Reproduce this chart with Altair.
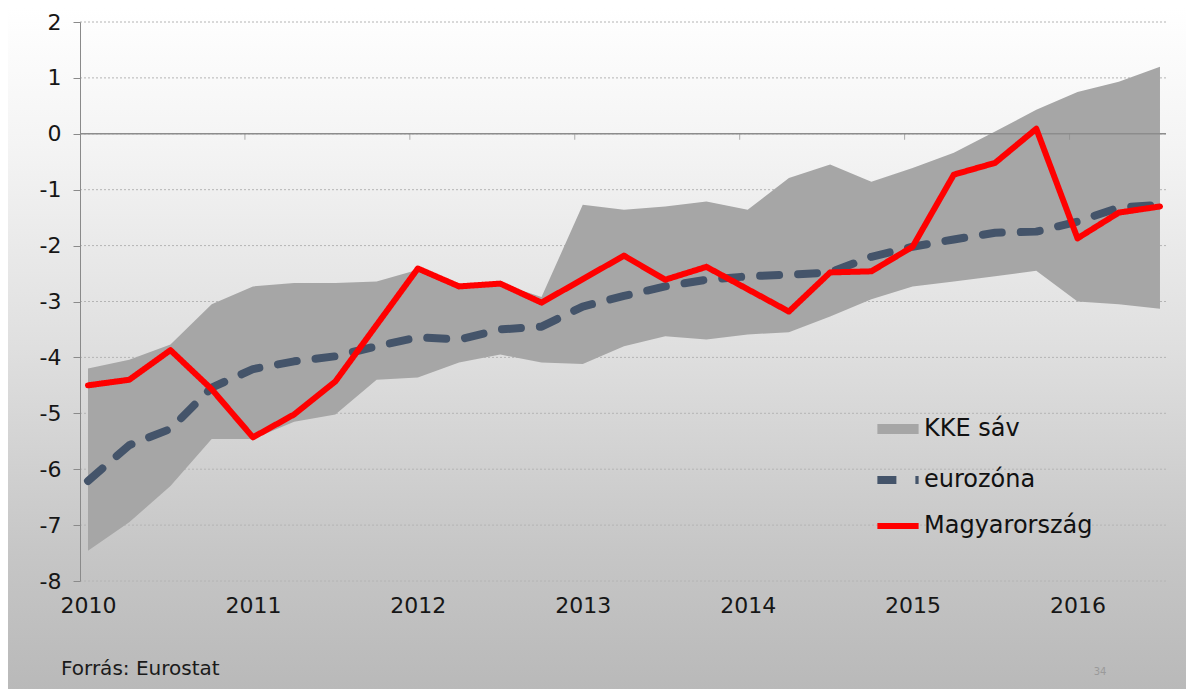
import altair as alt
import pandas as pd

# ---- data (quarters 2010Q1 .. 2016Q3) ----
quarters = list(range(27))
year_labels = [2010, 2011, 2012, 2013, 2014, 2015, 2016]
y_ticks = [-8, -7, -6, -5, -4, -3, -2, -1, 0, 1, 2]

hun = [-4.50, -4.40, -3.87, -4.57, -5.43, -5.02, -4.43, -3.42, -2.41,
       -2.73, -2.68, -3.02, -2.60, -2.18, -2.61, -2.38, -2.78, -3.18,
       -2.48, -2.46, -2.02, -0.73, -0.52, 0.09, -1.87, -1.41, -1.30]
euro = [-6.21, -5.57, -5.28, -4.54, -4.21, -4.07, -3.98, -3.80, -3.64,
        -3.68, -3.50, -3.45, -3.09, -2.90, -2.73, -2.61, -2.55, -2.52,
        -2.48, -2.20, -2.02, -1.89, -1.77, -1.75, -1.57, -1.32, -1.27]
kke_lo = [-7.46, -6.95, -6.30, -5.46, -5.46, -5.15, -5.02, -4.40, -4.36,
          -4.09, -3.95, -4.09, -4.12, -3.80, -3.62, -3.68, -3.59, -3.55,
          -3.27, -2.96, -2.73, -2.64, -2.55, -2.45, -3.00, -3.05, -3.13]
kke_hi = [-4.20, -4.04, -3.77, -3.05, -2.73, -2.67, -2.67, -2.64, -2.43,
          -2.73, -2.68, -2.92, -1.27, -1.36, -1.30, -1.21, -1.36, -0.79,
          -0.55, -0.86, -0.61, -0.34, 0.04, 0.43, 0.75, 0.93, 1.20]

series_names = ["KKE sáv", "eurozóna", "Magyarország"]
series_colors = ["#a6a6a6", "#44546a", "#ff0000"]

W, H = 1086, 559
PAD = {"left": 72, "top": 14, "right": 20, "bottom": 108}
FONT = "DejaVu Sans"

band_df = pd.DataFrame({"q": quarters, "lo": kke_lo, "hi": kke_hi})
line_df = pd.DataFrame({
    "q": quarters + quarters,
    "v": euro + hun,
    "series": ["eurozóna"] * len(euro) + ["Magyarország"] * len(hun),
})
grid_df = pd.DataFrame({"g": y_ticks})
yt_df = pd.DataFrame({"t": [4 * k for k in range(1, len(year_labels))]})

xscale = alt.Scale(domain=[-0.194, 26.146], nice=False, zero=False)
yscale = alt.Scale(domain=[-8, 2], nice=False, zero=False)

gradient = {
    "gradient": "linear", "x1": 0, "y1": 0, "x2": 0, "y2": 1,
    "stops": [
        {"offset": 0.0, "color": "#ffffff"},
        {"offset": 0.2, "color": "#f4f4f4"},
        {"offset": 0.5, "color": "#dfdfdf"},
        {"offset": 0.8, "color": "#c6c6c6"},
        {"offset": 1.0, "color": "#b9b9b9"},
    ],
}

one = alt.Data(values=[{}])

bg = alt.Chart(one).mark_rect(fill=gradient).encode(
    x=alt.value(-PAD["left"]), x2=alt.value(W + PAD["right"]),
    y=alt.value(-PAD["top"]), y2=alt.value(H + PAD["bottom"]),
)

grid = alt.Chart(grid_df).mark_rule(
    color="#b4b4b4", strokeDash=[2, 2], strokeWidth=1
).encode(y=alt.Y("g:Q", scale=yscale))

band = alt.Chart(band_df).mark_area(color="#a6a6a6", opacity=1).encode(
    x=alt.X("q:Q", scale=xscale,
            axis=alt.Axis(values=[4 * k for k in range(len(year_labels))],
                          labelExpr="'' + (2010 + datum.value / 4)",
                          domain=False, ticks=False, grid=False,
                          labelFont=FONT, labelFontSize=22, labelColor="#161616",
                          labelPadding=14, title=None, zindex=1)),
    y=alt.Y("lo:Q", scale=yscale,
            axis=alt.Axis(values=y_ticks, grid=False, domainColor="#8a8a8a",
                          labelExpr="'' + datum.value",
                          tickColor="#8a8a8a", tickSize=7, labelFont=FONT,
                          labelFontSize=22, labelColor="#161616",
                          labelPadding=12, title=None, zindex=1)),
    y2="hi:Q",
)

zero = alt.Chart(pd.DataFrame({"z": [0]})).mark_rule(
    color="#8c8c8c", strokeWidth=1.5
).encode(y=alt.Y("z:Q", scale=yscale))

zticks = alt.Chart(yt_df).mark_tick(
    color="#8c8c8c", orient="vertical", size=6, thickness=1, xOffset=-8, yOffset=3
).encode(x=alt.X("t:Q", scale=xscale), y=alt.datum(0))

lines = alt.Chart(line_df).mark_line(strokeCap="round", strokeJoin="round").encode(
    x=alt.X("q:Q", scale=xscale),
    y=alt.Y("v:Q", scale=yscale),
    color=alt.Color("series:N",
                    scale=alt.Scale(domain=series_names, range=series_colors),
                    legend=alt.Legend(title=None, orient="none", legendX=792,
                                      legendY=381, symbolType="stroke",
                                      symbolSize=1700, labelFont=FONT,
                                      labelFontSize=24, labelColor="#111111",
                                      labelLimit=400,
                                      labelOffset=0, rowPadding=6, padding=0)),
    strokeDash=alt.StrokeDash("series:N",
                              scale=alt.Scale(domain=series_names,
                                              range=[[1, 0], [19, 19], [1, 0]])),
    strokeWidth=alt.StrokeWidth("series:N",
                                scale=alt.Scale(domain=series_names,
                                                range=[10, 6, 5])),
)

src = alt.Chart(one).mark_text(
    align="left", baseline="alphabetic", font=FONT, fontSize=20, color="#1a1a1a"
).encode(x=alt.value(-19), y=alt.value(653), text=alt.value("Forrás: Eurostat"))

page = alt.Chart(one).mark_text(
    align="center", baseline="middle", font=FONT, fontSize=10, color="#9a9a9a"
).encode(x=alt.value(1020), y=alt.value(650), text=alt.value("34"))

chart = alt.layer(bg, grid, band, zero, zticks, lines, src, page).properties(
    width=W, height=H, padding=PAD,
    autosize=alt.AutoSizeParams(type="none"),
).configure_view(stroke=None)

chart.save("out.html", embed_options={"renderer": "svg", "actions": False})
